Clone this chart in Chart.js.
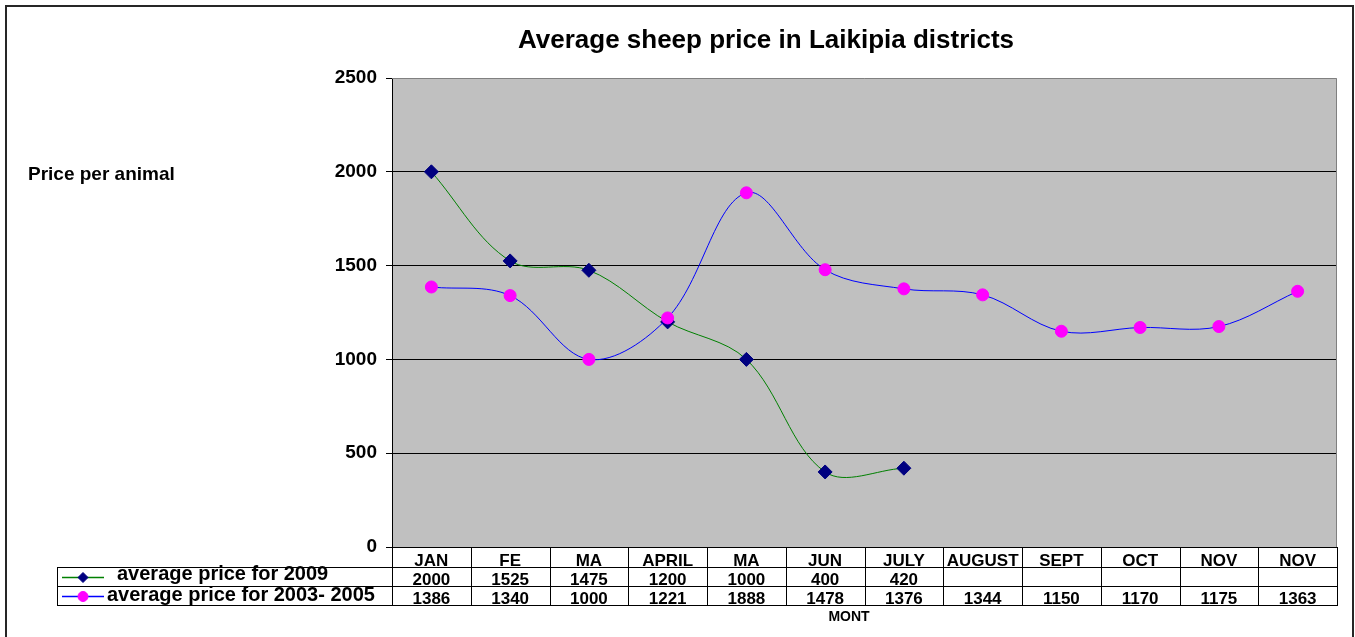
<!DOCTYPE html>
<html>
<head>
<meta charset="utf-8">
<title>Average sheep price in Laikipia districts</title>
<script src="https://cdn.jsdelivr.net/npm/chart.js@4/dist/chart.umd.min.js"></script>
<style>
  html, body { margin: 0; padding: 0; background: #fff; }
  #wrap { width: 1355px; height: 637px; position: relative; }
</style>
</head>
<body>
<div id="wrap"><canvas id="sheepChart" width="1355" height="637"></canvas></div>
<script>
// months as printed on the chart (the original sheet repeats MA and NOV)
const months = ['JAN', 'FE', 'MA', 'APRIL', 'MA', 'JUN', 'JULY', 'AUGUST', 'SEPT', 'OCT', 'NOV', 'NOV'];
const price2009 = [2000, 1525, 1475, 1200, 1000, 400, 420, null, null, null, null, null];
const price0305 = [1386, 1340, 1000, 1221, 1888, 1478, 1376, 1344, 1150, 1170, 1175, 1363];
const yTicks = [0, 500, 1000, 1500, 2000, 2500];

const chartTitle = 'Average sheep price in Laikipia districts';
const yTitle = 'Price per animal';
const xTitle = 'MONT';

const FONT = '"Liberation Sans", Arial, sans-serif';

// grey plot background + frame, drawn before the grid
const plotBackground = {
  id: 'plotBackground',
  beforeDraw(chart) {
    const { ctx, chartArea: a } = chart;
    ctx.save();
    ctx.fillStyle = '#fff';
    ctx.fillRect(0, 0, chart.width, chart.height);
    ctx.fillStyle = '#c0c0c0';
    ctx.fillRect(a.left, a.top, a.right - a.left, a.bottom - a.top);
    ctx.restore();
  },
  beforeDatasetsDraw(chart) {
    const { ctx, chartArea: a } = chart;
    ctx.save();
    ctx.strokeStyle = '#808080';
    ctx.lineWidth = 1;
    ctx.beginPath();
    ctx.moveTo(a.left, a.top + 0.5);
    ctx.lineTo(a.right - 0.5, a.top + 0.5);
    ctx.lineTo(a.right - 0.5, a.bottom);
    ctx.stroke();
    ctx.restore();
  }
};

// titles, data table under the plot and the outer frame
const dataTable = {
  id: 'dataTable',
  afterDraw(chart) {
    const { ctx, chartArea: a } = chart;
    const x = chart.scales.x;
    const n = months.length;
    const colW = (a.right - a.left) / n;
    const legendLeft = 57;
    const rowY = [a.bottom, 567, 586, 605];

    ctx.save();

    // outer frame
    ctx.strokeStyle = '#262626';
    ctx.lineWidth = 2;
    ctx.strokeRect(6, 6, chart.width - 8, chart.height + 20);

    // title
    ctx.fillStyle = '#000';
    ctx.font = 'bold 26px ' + FONT;
    ctx.textAlign = 'center';
    ctx.textBaseline = 'alphabetic';
    ctx.fillText(chartTitle, 766, 48);

    // y axis caption
    ctx.font = 'bold 19px ' + FONT;
    ctx.textAlign = 'left';
    ctx.fillText(yTitle, 28, 180);

    // table grid
    ctx.strokeStyle = '#000';
    ctx.lineWidth = 1;
    ctx.beginPath();
    for (let r = 1; r < rowY.length; r++) {
      ctx.moveTo(legendLeft, rowY[r] + 0.5);
      ctx.lineTo(a.right, rowY[r] + 0.5);
    }
    ctx.moveTo(legendLeft + 0.5, rowY[1]);
    ctx.lineTo(legendLeft + 0.5, rowY[3] + 1);
    for (let i = 0; i <= n; i++) {
      const cx = Math.round(a.left + i * colW) + 0.5;
      ctx.moveTo(cx, rowY[0]);
      ctx.lineTo(cx, rowY[3] + 1);
    }
    ctx.stroke();

    // header row and values
    ctx.font = 'bold 17px ' + FONT;
    ctx.textAlign = 'center';
    for (let i = 0; i < n; i++) {
      const px = x.getPixelForValue(i);
      ctx.fillText(months[i], px, 566);
      if (price2009[i] != null) ctx.fillText(String(price2009[i]), px, 585);
      if (price0305[i] != null) ctx.fillText(String(price0305[i]), px, 604);
    }

    // legend keys inside the table
    const ds = chart.data.datasets;
    const keys = [
      { d: ds[0], y: 577, tx: 117, ty: 580 },
      { d: ds[1], y: 596, tx: 107, ty: 601 }
    ];
    keys.forEach(k => {
      ctx.strokeStyle = k.d.borderColor;
      ctx.lineWidth = 1.5;
      ctx.beginPath();
      ctx.moveTo(62, k.y + 0.5);
      ctx.lineTo(104, k.y + 0.5);
      ctx.stroke();
      ctx.fillStyle = k.d.pointBackgroundColor;
      ctx.strokeStyle = k.d.pointBorderColor;
      ctx.lineWidth = 1;
      Chart.helpers.drawPoint(ctx, { pointStyle: k.d.pointStyle, radius: 5, borderWidth: 1 }, 83, k.y + 0.5);
      ctx.fillStyle = '#000';
      ctx.font = 'bold 20px ' + FONT;
      ctx.textAlign = 'left';
      ctx.fillText(k.d.label, k.tx, k.ty);
    });

    // x axis caption
    ctx.font = 'bold 14px ' + FONT;
    ctx.textAlign = 'center';
    ctx.fillText(xTitle, 849, 621);

    ctx.restore();
  }
};

const ctx = document.getElementById('sheepChart').getContext('2d');
const sheepChart = new Chart(ctx, {
  type: 'line',
  data: {
    labels: months,
    datasets: [{
      label: 'average price for 2009',
      data: price2009,
      borderColor: '#008000',
      borderWidth: 1,
      tension: 0.35,
      pointStyle: 'rectRot',
      pointRadius: 7,
      pointBackgroundColor: '#000080',
      pointBorderColor: '#000080',
      pointBorderWidth: 1,
      order: 1
    }, {
      label: 'average price for 2003- 2005',
      data: price0305,
      borderColor: '#0000ff',
      borderWidth: 1,
      tension: 0.35,
      pointStyle: 'circle',
      pointRadius: 6,
      pointBackgroundColor: '#ff00ff',
      pointBorderColor: '#ff00ff',
      pointBorderWidth: 1,
      order: 0
    }]
  },
  options: {
    responsive: false,
    animation: false,
    events: [],
    layout: { padding: { top: 78, right: 18, bottom: 90, left: 0 } },
    plugins: {
      legend: { display: false },
      title: { display: false },
      tooltip: { enabled: false }
    },
    scales: {
      x: {
        type: 'category',
        display: false,
        offset: true
      },
      y: {
        min: 0,
        max: 2500,
        afterFit(scale) { scale.width = 392; },
        afterBuildTicks(scale) { scale.ticks = yTicks.map(v => ({ value: v })); },
        border: { display: true, color: '#000', width: 1 },
        grid: {
          color: c => (c.tick && c.tick.value === 2500) ? 'rgba(0,0,0,0)' : '#000',
          tickColor: '#000',
          tickLength: 6,
          drawTicks: true
        },
        ticks: {
          color: '#000',
          padding: 9,
          font: { family: FONT, size: 19, weight: 'bold' },
          callback: v => String(v)
        }
      }
    }
  },
  plugins: [plotBackground, dataTable]
});
</script>
</body>
</html>
